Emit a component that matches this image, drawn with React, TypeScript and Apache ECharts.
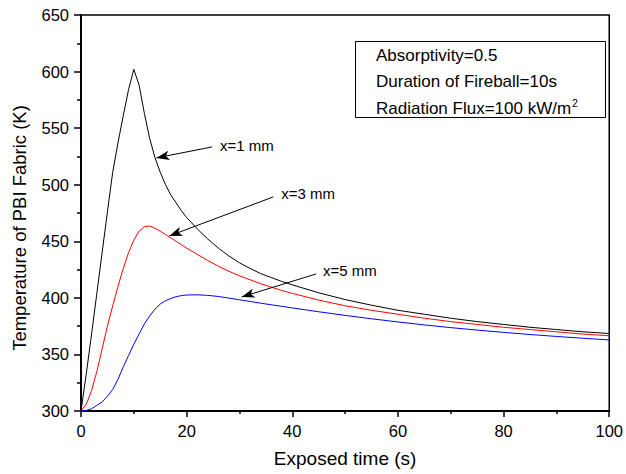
import React, { useEffect, useRef } from "react";
import * as echarts from "echarts";

const timeS = [0, 1, 2, 3, 4, 5, 6, 7, 8, 9, 10, 11, 12, 13, 14, 15, 16, 17, 18, 19, 20, 22, 24, 26, 28, 30, 32, 34, 36, 38, 40, 45, 50, 55, 60, 65, 70, 75, 80, 85, 90, 95, 100];
const temp1mm = [300, 333, 368, 404, 440, 476, 511, 537, 561, 584, 602, 588, 563, 541, 524, 511, 500, 491, 484, 477, 471, 461, 452, 444, 437, 431, 426, 421.5, 418, 414.5, 411.5, 404.5, 398.5, 393.5, 389, 385.5, 382, 379, 376.5, 374, 372, 370, 368.5];
const temp3mm = [300, 306, 318, 335, 355, 375, 393, 410, 426, 440, 451, 459, 463, 463.5, 461.5, 459, 456, 453, 450, 447, 444, 438.5, 433, 428, 423.5, 419.5, 416, 412.5, 409.5, 406.5, 404, 398, 393, 389, 385.5, 382, 379, 376.5, 374, 372, 370, 368, 366.5];
const temp5mm = [300, 300.5, 302, 305, 308, 313, 319, 328, 339, 349, 359, 368, 377, 384, 390, 394.5, 397.5, 399.5, 401, 402, 402.5, 402.7, 402.2, 401.2, 399.8, 398.3, 396.8, 395.3, 393.9, 392.5, 391.1, 387.7, 384.5, 381.5, 378.7, 376.1, 373.7, 371.5, 369.5, 367.6, 365.9, 364.3, 362.8];

const seriesNames = ["x=1 mm", "x=3 mm", "x=5 mm"];
const seriesColors = ["#000000", "#ff0000", "#0000ff"];
// annotation: [label point, arrow tip] in data coordinates
const arrowStarts = [[24.8, 533.4], [36.4, 489.2], [44.5, 421.1]];
const arrowTips = [[14.26, 523.7], [16.7, 454.7], [30.4, 400.8]];
const labelPoints = [[26.3, 534.3], [37.9, 491.9], [45.8, 423.8]];

const xTitle = "Exposed time (s)";
const yTitle = "Temperature of PBI Fabric (K)";
const boxLines = ["Absorptivity=0.5", "Duration of Fireball=10s", "Radiation Flux=100 kW/m{sup|2}"];

const FONT = "'Liberation Sans', Arial, Helvetica, sans-serif";

export default function App() {
  const ref = useRef<HTMLDivElement>(null);
  useEffect(() => {
    if (!ref.current) return;
    const chart = echarts.init(ref.current, null, { renderer: "svg" });
    const allData = [temp1mm, temp3mm, temp5mm];
    const series = allData.map((vals, i) => ({
      type: "line",
      name: seriesNames[i],
      data: timeS.map((t, k) => [t, vals[k]]),
      showSymbol: false,
      smooth: false,
      lineStyle: { color: seriesColors[i], width: 1 },
      itemStyle: { color: seriesColors[i] },
      markLine: {
        silent: true,
        symbol: ["none", "arrow"],
        symbolSize: [7, 13],
        lineStyle: { color: "#000", width: 1, type: "solid" },
        label: { show: false },
        data: [[{ coord: arrowStarts[i] }, { coord: arrowTips[i] }]],
      },
      markPoint: {
        silent: true,
        symbol: "circle",
        symbolSize: 0,
        label: {
          show: true,
          position: "right",
          distance: 0,
          formatter: seriesNames[i],
          color: "#000",
          fontSize: 15,
          fontFamily: FONT,
        },
        data: [{ coord: labelPoints[i] }],
      },
    }));

    chart.setOption({
      animation: false,
      backgroundColor: "#fff",
      grid: { left: 81, right: 12, top: 15, bottom: 63, show: true, borderColor: "#000", borderWidth: 1.5, containLabel: false },
      xAxis: {
        type: "value",
        min: 0,
        max: 100,
        interval: 20,
        name: xTitle,
        nameLocation: "middle",
        nameGap: 38,
        nameTextStyle: { fontSize: 19, color: "#000", fontFamily: FONT },
        axisLine: { show: true, lineStyle: { color: "#000", width: 2 } },
        axisTick: { show: true, length: 6, lineStyle: { color: "#000", width: 1.5 } },
        minorTick: { show: true, splitNumber: 2, length: 3, lineStyle: { color: "#000", width: 1.5 } },
        axisLabel: { fontSize: 16.5, color: "#000", fontFamily: FONT, margin: 11 },
        splitLine: { show: false },
      },
      yAxis: {
        type: "value",
        min: 300,
        max: 650,
        interval: 50,
        axisLine: { show: true, lineStyle: { color: "#000", width: 2 } },
        axisTick: { show: true, length: 7, lineStyle: { color: "#000", width: 1.5 } },
        minorTick: { show: true, splitNumber: 2, length: 4, lineStyle: { color: "#000", width: 1.5 } },
        axisLabel: { fontSize: 16.5, color: "#000", fontFamily: FONT, margin: 12 },
        splitLine: { show: false },
      },
      series,
      graphic: [
        {
          type: "text",
          x: 19,
          y: 228,
          rotation: Math.PI / 2,
          style: {
            text: yTitle,
            fontSize: 18.5,
            fontFamily: FONT,
            fill: "#000",
            align: "center",
            verticalAlign: "middle",
          },
        },
        {
          type: "rect",
          shape: { x: 355.5, y: 41.5, width: 250, height: 76 },
          style: { fill: "#fff", stroke: "#000", lineWidth: 1 },
          z: 10,
        },
        ...boxLines.map((txt, i) => ({
          type: "text",
          x: 376,
          y: 55 + i * 26.5,
          z: 11,
          style: {
            text: txt,
            fontSize: 17,
            fontFamily: FONT,
            fill: "#000",
            verticalAlign: "middle",
            rich: {
              sup: { fontSize: 10.5, fontFamily: FONT, fill: "#000", verticalAlign: "top", padding: [0, 0, 10, 1] },
            },
          },
        })),
      ],
    });
    return () => chart.dispose();
  }, []);
  return <div ref={ref} style={{ width: 626, height: 474, position: "absolute", left: 0, top: 0 }} />;
}
